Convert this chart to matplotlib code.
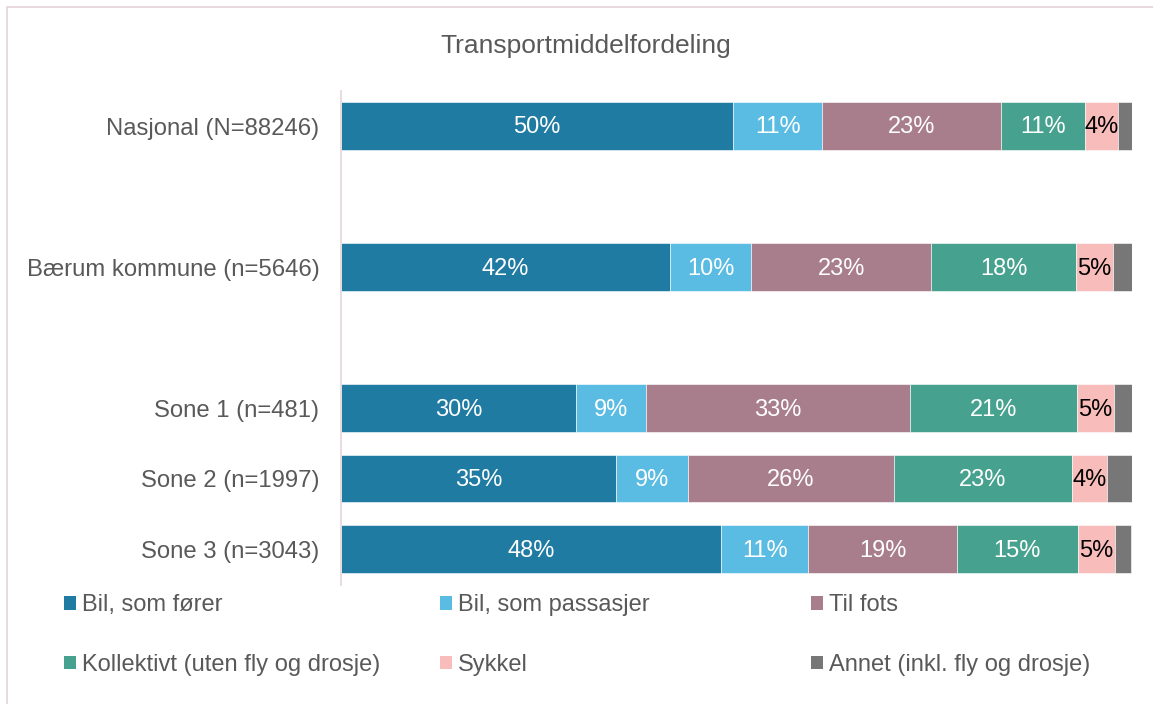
import matplotlib.pyplot as plt
from matplotlib.patches import Rectangle, Patch
import numpy as np

plt.rcParams['font.family'] = ['Liberation Sans', 'DejaVu Sans']

# data (percent shares)
groups = ["Nasjonal (N=88246)", "", "Bærum kommune (n=5646)", "",
          "Sone 1 (n=481)", "Sone 2 (n=1997)", "Sone 3 (n=3043)"]
modes = ["Bil, som fører", "Bil, som passasjer", "Til fots",
         "Kollektivt (uten fly og drosje)", "Sykkel", "Annet (inkl. fly og drosje)"]
bil_forer = [49.6, np.nan, 41.6, np.nan, 29.7, 34.8, 48.1]
bil_passasjer = [11.3, np.nan, 10.3, np.nan, 8.9, 9.1, 11.0]
til_fots = [22.6, np.nan, 22.7, np.nan, 33.4, 26.0, 18.8]
kollektivt = [10.6, np.nan, 18.4, np.nan, 21.1, 22.6, 15.3]
sykkel = [4.2, np.nan, 4.6, np.nan, 4.7, 4.4, 4.7]
annet = [1.7, np.nan, 2.4, np.nan, 2.2, 3.1, 2.0]

colors = ["#1F7BA2", "#5BBCE3", "#A87E8C", "#46A28E", "#F8BDBA", "#777777"]
label_colors = ["white", "white", "white", "white", "black", None]
series = [bil_forer, bil_passasjer, til_fots, kollektivt, sykkel, annet]

grey = "#595959"

fig = plt.figure(figsize=(11.53, 7.04), dpi=100)
ax = fig.add_axes([0.2957, 0.1697, 0.6858, 0.7014])

# outer chart border (light pink frame)
fig.patches.append(Rectangle((7 / 1153, -0.05), 1.2, 1 - 7 / 704 + 0.05,
                             transform=fig.transFigure, fill=False,
                             edgecolor="#E6D3DA", linewidth=1.2))

y = np.arange(len(groups))
left = np.zeros(len(groups))
for vals, col, lcol in zip(series, colors, label_colors):
    v = np.array(vals, dtype=float)
    ax.barh(y, np.nan_to_num(v), left=left, height=0.674, color=col,
            edgecolor="white", linewidth=0.4)
    if lcol is not None:
        for yi, (l, w) in enumerate(zip(left, v)):
            if np.isnan(w):
                continue
            ax.text(l + w / 2, yi + 0.02, f"{w:.0f}%", ha="center", va="center",
                    color=lcol, fontsize=17)
    left += np.nan_to_num(v)

ax.set_xlim(0, 100)
ax.set_ylim(len(groups) - 0.5, -0.5)
ax.set_yticks(y)
ax.set_yticklabels(groups, fontsize=17.2, color=grey)
ax.tick_params(axis="y", length=0, pad=15.5)
ax.set_xticks([])

for s in ["top", "right", "bottom"]:
    ax.spines[s].set_visible(False)
ax.spines["left"].set_color("#E6D9DE")
ax.spines["left"].set_linewidth(1.3)

fig.text(0.508, 0.934, "Transportmiddelfordeling", ha="center", va="center",
         fontsize=19, color=grey)

# legend: three columns, two rows (row-wise order)
xs = [43 / 1153, 419 / 1153, 790 / 1153]
for c in range(3):
    handles = [Patch(facecolor=colors[c], edgecolor="none"),
               Patch(facecolor=colors[c + 3], edgecolor="none")]
    lg = fig.legend(handles, [modes[c], modes[c + 3]], loc="upper left",
                    bbox_to_anchor=(xs[c], 1 - 573 / 704), frameon=False,
                    fontsize=17, handlelength=0.5, handleheight=0.5,
                    handletextpad=0.25, labelspacing=1.6, borderpad=0.4)
    for t in lg.get_texts():
        t.set_color(grey)

fig.savefig("out.png", dpi=100)
